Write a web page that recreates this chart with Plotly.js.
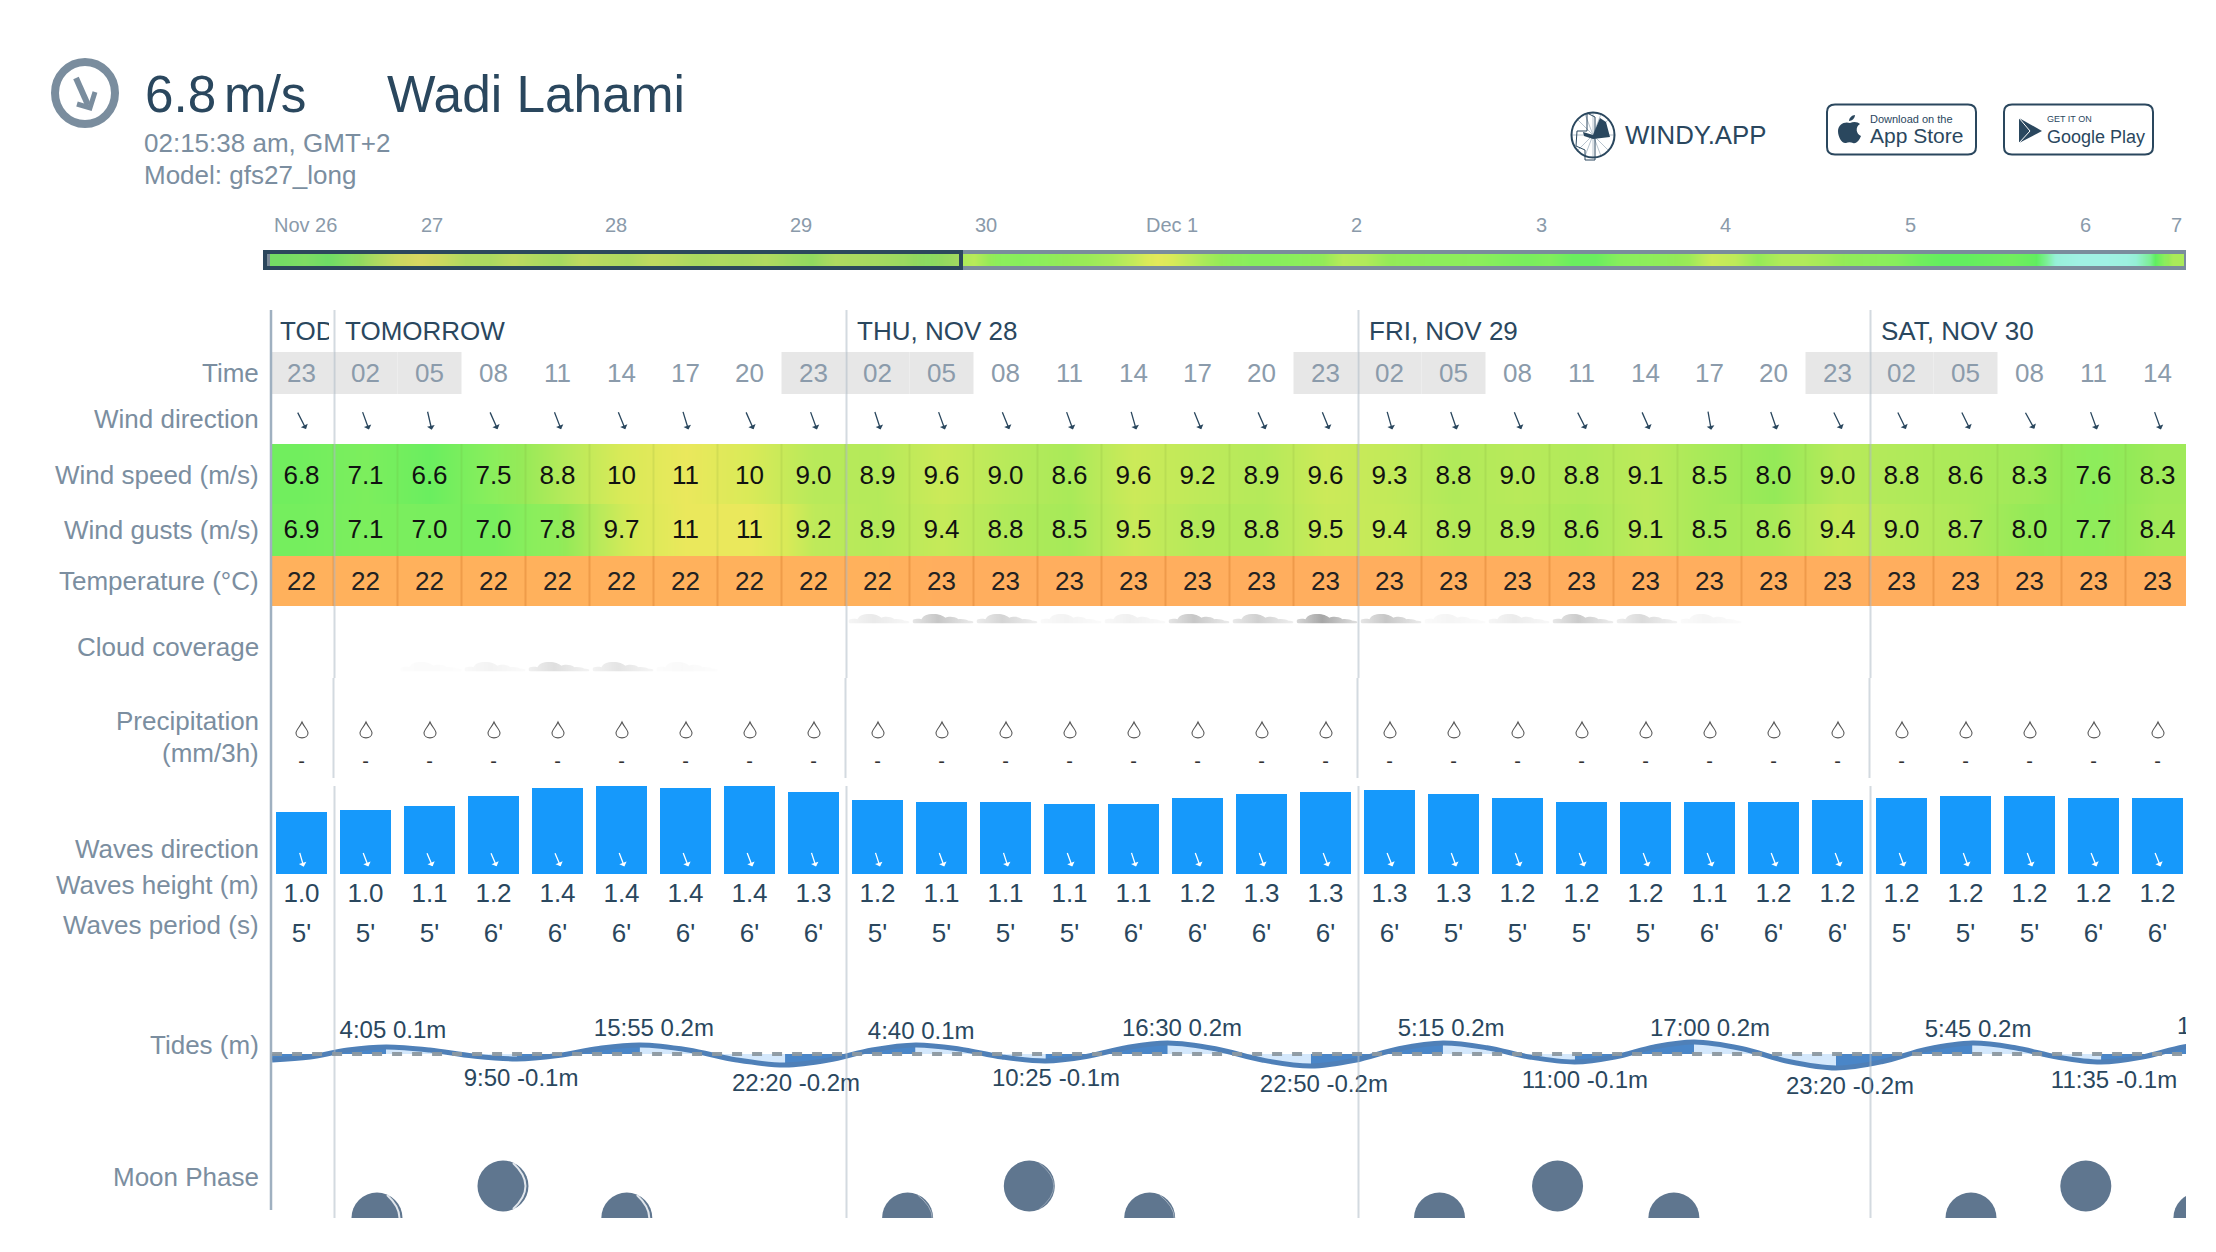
<!DOCTYPE html>
<html><head><meta charset="utf-8">
<script src="https://cdn.plot.ly/plotly-3.0.1.min.js"></script>
<style>html,body{margin:0;padding:0;background:#fff}</style></head>
<body><div id="chart" style="width:2216px;height:1252px"></div>
<script>
// ---------- data ----------
const hours = ["23","02","05","08","11","14","17","20","23","02","05","08","11","14","17","20","23","02","05","08","11","14","17","20","23","02","05","08","11","14"];
const dayLabels = ["TODAY","TOMORROW","THU, NOV 28","FRI, NOV 29","SAT, NOV 30"];
const windBearing = [153,160,167,156,159,158,163,156,160,162,160,158,160,164,158,156,158,164,161,158,153,156,170,161,154,154,154,151,160,160];
const windSpeed = [6.8,7.1,6.6,7.5,8.8,10,11,10,9.0,8.9,9.6,9.0,8.6,9.6,9.2,8.9,9.6,9.3,8.8,9.0,8.8,9.1,8.5,8.0,9.0,8.8,8.6,8.3,7.6,8.3];
const windGusts = [6.9,7.1,7.0,7.0,7.8,9.7,11,11,9.2,8.9,9.4,8.8,8.5,9.5,8.9,8.8,9.5,9.4,8.9,8.9,8.6,9.1,8.5,8.6,9.4,9.0,8.7,8.0,7.7,8.4];
const temperature = [22,22,22,22,22,22,22,22,22,22,23,23,23,23,23,23,23,23,23,23,23,23,23,23,23,23,23,23,23,23];
const cloudHigh = [0,0,0,0,0,0,0,0,0,.22,.6,.45,.12,.15,.6,.5,.95,.6,.1,.2,.55,.38,.1,0,0,0,0,0,0,0];
const cloudLow  = [0,0,.04,.12,.34,.28,.05,0,0,0,0,0,0,0,0,0,0,0,0,0,0,0,0,0,0,0,0,0,0,0];
const precipitation = Array.from("------------------------------");
const waveHeightBars = [0.99,1.02,1.09,1.25,1.38,1.41,1.38,1.41,1.31,1.18,1.15,1.15,1.12,1.12,1.22,1.28,1.31,1.34,1.28,1.22,1.15,1.15,1.15,1.15,1.18,1.22,1.25,1.25,1.22,1.22];
const waveHeightLabels = ["1.0","1.0","1.1","1.2","1.4","1.4","1.4","1.4","1.3","1.2","1.1","1.1","1.1","1.1","1.2","1.3","1.3","1.3","1.3","1.2","1.2","1.2","1.1","1.2","1.2","1.2","1.2","1.2","1.2","1.2"];
const wavePeriod = [5,5,5,6,6,6,6,6,6,5,5,5,5,6,6,6,6,6,5,5,5,5,6,6,6,5,5,5,6,6];
const waveBearing = [164,159,157,157,157,159,159,159,162,162,160,162,160,162,160,160,159,158,160,160,159,159,159,159,159,160,160,160,158,158];
const tideHours = [-1.22,0.55,2.31,4.08,6.11,8.14,10.17,12.08,13.98,15.89,18.14,20.39,22.64,24.66,26.69,28.71,30.73,32.74,34.76,36.65,38.55,40.44,42.66,44.88,47.10,49.15,51.19,53.24,55.29,57.33,59.38,61.23,63.07,64.92,67.12,69.32,71.52,73.64,75.75,77.87,79.86,81.86,83.85,85.77,87.68,89.6];
const tideLevels = [-.10,-.05,.065,.117,.067,-.033,-.083,-.025,.092,.15,.067,-.10,-.183,-.10,.067,.15,.083,-.05,-.117,-.042,.108,.183,.087,-.104,-.2,-.104,.087,.183,.104,-.054,-.133,-.05,.117,.2,.092,-.125,-.233,-.129,.079,.183,.104,-.054,-.133,-.05,.117,.2];
const tideLabels = ["4:05 0.1m","9:50 -0.1m","15:55 0.2m","22:20 -0.2m","4:40 0.1m","10:25 -0.1m","16:30 0.2m","22:50 -0.2m","5:15 0.2m","11:00 -0.1m","17:00 0.2m","23:20 -0.2m","5:45 0.2m","11:35 -0.1m","17:30 0.2m"];
const moonHours = [3.66,9.52,15.28,28.34,34.0,39.6,53.08,58.57,63.98,77.8,83.14,88.4];
const moonHeight = [0,1,0,0,1,0,0,1,0,0,1,0];
const moonLit = [1,1,1,.5,.4,.5,0,0,0,0,0,0];
const outlookExtra = [9.0,7.6,7.4,7.6,8.0,8.2,8.6,9.4,10.6,9.6,8.6,7.8,7.4,7.4,7.5,7.8,9.0,8.8,8.0,7.8,7.6,7.6,7.5,7.2,7.0,7.2,6.6,6.6,7.4,7.6,7.8,8.2,9.6,9.2,8.0,8.8,8.8,8.4,7.8,7.6,7.4,6.8,6.4,6.4,6.6,6.8,6.4,4.8,4.4,4.4,4.6,5.6,8.6];
const outlookLabels = ["Nov 26","27","28","29","30","Dec 1","2","3","4","5","6","7"];

// ---------- layout helpers ----------
const W = 2216, H = 1252;
const COL0 = 301.5, COLW = 64;            // px of column 0 centre, px per column
const T0 = 298.3, HOURW = 21.5;           // px of tide hour 0, px per hour
const PLOT_L = 272, PLOT_R = 2186;
const N = hours.length, cols = hours.map((_, i) => i);
const edges = Array.from({length: N + 1}, (_, i) => i - 0.5);
const DARK = "#2a475e", LABEL = "#7b8ea0", TIMEC = "#8b9bab";
const FONT = '"Liberation Sans", Arial, sans-serif';
const px = x => x / W, py = y => 1 - y / H;
const dom = (top, bottom) => [py(bottom), py(top)];
const colX = d => d / COLW;               // px offset to column units

const annotations = [];
const shapes = [];
const note = (x, y, text, size, color, anchor) => annotations.push({
  xref: "paper", yref: "paper", x: px(x), y: py(y), text, showarrow: false,
  xanchor: anchor || "left", yanchor: "middle", font: {size, color, family: FONT}, borderpad: 0
});
const pRect = (x0, y0, x1, y1, o) => shapes.push(Object.assign({
  type: "rect", xref: "paper", yref: "paper", x0: px(x0), x1: px(x1), y0: py(y0), y1: py(y1), line: {width: 0}
}, o));
const pRing = (x0, y0, x1, y1, color, width) => shapes.push({
  type: "circle", xref: "paper", yref: "paper", x0: px(x0), x1: px(x1), y0: py(y0), y1: py(y1), line: {color, width}, fillcolor: "rgba(0,0,0,0)"
});
const pPath = (pts, o) => shapes.push(Object.assign({
  type: "path", xref: "paper", yref: "paper", line: {width: 0},
  path: pts.replace(/(-?[\d.]+),(-?[\d.]+)/g, (_, a, b) => px(+a) + "," + py(+b))
}, o));
const pLine = (x0, y0, x1, y1, color, width) => shapes.push({
  type: "line", xref: "paper", yref: "paper", x0: px(x0), x1: px(x1), y0: py(y0), y1: py(y1), line: {color, width}
});

// header
pRing(55, 62, 115, 124, "#7a8d9e", 8);
note(143.5, 94, "6.8", 51.2, DARK); note(222.5, 94, "m/s", 51.2, DARK); note(386, 94, "Wadi Lahami", 51.4, DARK);
note(143, 143, "02:15:38 am, GMT+2", 26, LABEL); note(143, 175, "Model: gfs27_long", 26, LABEL);
pLine(76, 78, 88, 105, "#7a8d9e", 6);
pPath("M77,104 L90,108 L95,92", {line: {color: "#7a8d9e", width: 5}, fillcolor: "rgba(0,0,0,0)"});

// logo
[[1593,113,1593,157],[1572,135,1614,135],[1578,120,1608,150],[1578,150,1608,120],[1585,114,1601,156],[1585,156,1601,114]].forEach(s => pLine(s[0],s[1],s[2],s[3],"#b8c4ce",1));
pPath("M1583,132 L1593,135 L1600,118 L1606,122 L1610,137 L1593,139 L1584,136 Z", {fillcolor: DARK});
pPath("M1577,131 L1587,131 L1587,113 L1595,117 L1595,160 L1585,160 L1585,150 L1576,146 Z", {line: {color: DARK, width: 1}, fillcolor: "rgba(0,0,0,0)"});
pRing(1571.5, 112.5, 1614.5, 157.5, DARK, 2);
note(1624, 135, "WINDY.APP", 25.8, DARK);

// store badges
const badge = (a, b) => pPath(`M${a+8},104.5 L${b-8},104.5 Q${b},104.5 ${b},112 L${b},147 Q${b},154.5 ${b-8},154.5 L${a+8},154.5 Q${a},154.5 ${a},147 L${a},112 Q${a},104.5 ${a+8},104.5 Z`, {line: {color: DARK, width: 2}, fillcolor: "#fff"});
badge(1827, 1976); badge(2004, 2153);
pPath("M1850,123 C1854,121 1858,122 1860,124 C1855,127 1856,134 1861,136 C1859,141 1856,144 1853,143 C1851,142 1848,142 1846,143 C1842,144 1838,137 1838,131 C1838,124 1845,121 1850,123 Z", {fillcolor: DARK});
pPath("M1849,121 C1849,118 1852,115 1855,115 C1855,118 1852,121 1849,121 Z", {fillcolor: DARK});
note(1869, 119, "Download on the", 11, DARK); note(1869, 136, "App Store", 21, DARK);
pPath("M2019,118 L2042,131 L2019,143 Z", {fillcolor: DARK});
pLine(2019, 118, 2030, 131, "#fff", 1); pLine(2019, 143, 2030, 131, "#fff", 1);
note(2046, 119, "GET IT ON", 9, DARK); note(2046, 137, "Google Play", 18, DARK);

// outlook strip
const outlookPx = [305.5,432,616,801,986,1172,1356,1541,1725,1910,2085,2176];
outlookLabels.forEach((t, i) => note(outlookPx[i], 225, t, 20, "#8a9aaa", "center"));
pRect(263, 250, 2186, 270, {fillcolor: "#7a8c9c", layer: "below"});
pRect(265, 252, 961, 268, {line: {color: "#2c475c", width: 4}, fillcolor: "rgba(130,130,130,0.17)"});

// row labels
[["Time",373],["Wind direction",419],["Wind speed (m/s)",475],["Wind gusts (m/s)",530],["Temperature (°C)",581],["Cloud coverage",647],["Precipitation",721],["(mm/3h)",753],["Waves direction",849],["Waves height (m)",885],["Waves period (s)",925],["Tides (m)",1045],["Moon Phase",1177]]
  .forEach(r => note(260, r[1], r[0], 26, LABEL, "right"));

// day headers
const dayPx = [279,344,856,1368,1880];
dayLabels.forEach((t, i) => {
  note(dayPx[i], 331, t, 26, DARK);
  if (i === 0) { const a = annotations[annotations.length - 1]; a.width = 49; a.align = "left"; }
});

// night cells
hours.forEach((h, i) => { if (["23","02","05"].includes(h)) shapes.push({type: "rect", xref: "x", yref: "y", x0: i - .5, x1: i + .5, y0: 352, y1: 394, line: {width: 0}, fillcolor: "#e7e7e7", layer: "below"}); });

// cell edges and day lines
const isDayEdge = i => hours[i + 1] === "02";
for (let i = 0; i < N - 1; i++) {
  shapes.push({type: "line", xref: "x", yref: "y", x0: i + .5, x1: i + .5, y0: 444, y1: 556, line: {color: "rgba(110,150,50,0.13)", width: 2}});
  shapes.push({type: "line", xref: "x", yref: "y", x0: i + .5, x1: i + .5, y0: 556, y1: 606, line: {color: "rgba(220,130,50,0.45)", width: 2}});
  if (isDayEdge(i)) {
    const c = "rgba(175,187,199,0.55)", d = colX(1);
    shapes.push({type: "line", xref: "x", yref: "y", x0: i + .5 + d, x1: i + .5 + d, y0: 310, y1: 678, line: {color: c, width: 2}});
    shapes.push({type: "line", xref: "x", yref: "y", x0: i + .5, x1: i + .5, y0: 678, y1: 778, line: {color: c, width: 2}});
    shapes.push({type: "line", xref: "x", yref: "y", x0: i + .5 + d, x1: i + .5 + d, y0: 786, y1: 1218, line: {color: c, width: 2}});
  }
}
pLine(271, 310, 271, 1210, "#9fb0c0", 2.5);

// precipitation drops
cols.forEach(i => {
  const X = v => i + colX(v + .5);
  shapes.push({type: "path", xref: "x", yref: "y", line: {color: "#555", width: 1.1}, fillcolor: "#fff",
    path: `M${X(0)},722 C${X(1.5)},726 ${X(6)},730 ${X(6)},733 C${X(6)},739.5 ${X(-6)},739.5 ${X(-6)},733 C${X(-6)},730 ${X(-1.5)},726 ${X(0)},722 Z`});
});

// direction arrows
const arrow = (i, yc, bearing, len, color, w) => {
  const a = bearing * Math.PI / 180, dx = Math.sin(a) * len, dy = -Math.cos(a) * len;
  annotations.push({xref: "x", yref: "y", x: i + colX(dx / 2), y: yc + dy / 2, ax: -dx, ay: -dy, axref: "pixel", ayref: "pixel",
    text: "", showarrow: true, arrowhead: 1, arrowsize: 1, arrowwidth: w, arrowcolor: color, standoff: 0});
};
windBearing.forEach((b, i) => arrow(i, 420, b, 20, DARK, 1.3));
waveBearing.forEach((b, i) => arrow(i, 859, b, 16, "#fff", 1.3));

// moon highlights
moonHours.forEach((t, i) => {
  if (!moonLit[i]) return;
  const u = v => t + v / HOURW, cy = moonHeight[i], yv = v => cy - v / 32;
  shapes.push({type: "path", xref: "x2", yref: "y4", line: {color: `rgba(225,230,236,${moonLit[i]})`, width: moonLit[i] > .6 ? 2 : 1},
    path: `M${u(10)},${yv(-23)} Q${u(moonLit[i] > .6 ? 35 : 39)},${yv(0)} ${u(10)},${yv(23)}`});
});

// clouds
const cloudSvg = "data:image/svg+xml;base64," + btoa('<svg xmlns="http://www.w3.org/2000/svg" viewBox="0 0 61 10" width="244" height="40" preserveAspectRatio="none"><defs><linearGradient id="g" x1="0" x2="1" y1="0" y2="0"><stop offset="0" stop-color="#a2a2a2" stop-opacity=".45"/><stop offset=".42" stop-color="#a2a2a2" stop-opacity="1"/><stop offset="1" stop-color="#a2a2a2" stop-opacity=".35"/></linearGradient></defs><g fill="url(#g)"><path d="M0,7.5 C0,5 5,4.6 9,5.6 C11,1.5 14,0 21,0 C27,0 30,1.8 33,4 C36,2.5 42,2.5 46,5.5 C50,5 54,6 56,7 C60,6.8 61,8 61,8.6 C61,9.6 60,10 57,10 L4,10 C1,10 0,9 0,7.5 Z"/></g></svg>');
const images = [];
const addClouds = (arr, top, bottom) => arr.forEach((o, i) => { if (o > 0) images.push({source: cloudSvg, xref: "x", yref: "y", x: i + .5, y: bottom, sizex: colX(61), sizey: bottom - top, xanchor: "right", yanchor: "bottom", sizing: "stretch", opacity: o, layer: "above"}); });
addClouds(cloudHigh, 614, 623.5);
addClouds(cloudLow, 662, 671.5);

// ---------- traces ----------
const fmt = v => v >= 10 ? String(Math.round(v)) : v.toFixed(1);
const windScale = [[0,"#a8f2ee"],[.125,"#95f0d6"],[.2,"#7cef96"],[.2875,"#5fee60"],[.4375,"#8bee5c"],[.5,"#94ea58"],[.625,"#b8ea5a"],[.75,"#d9ea58"],[.875,"#eae85c"],[1,"#f2d65a"]];
const band = (vals, top, bottom, scale, zmin, zmax, xaxis) => ({
  type: "heatmap", xaxis: xaxis || "x", yaxis: "y", z: [vals, vals], x: xaxis ? Array.from({length: vals.length + 1}, (_, i) => i - .5) : edges,
  y: [top, (top + bottom) / 2, bottom], zsmooth: "best", colorscale: scale, zmin, zmax, showscale: false, hoverinfo: "skip"
});
const rowText = (texts, y, size, color) => ({type: "scatter", mode: "text", x: cols, y: cols.map(() => y), text: texts, textposition: "middle center", textfont: {size, color, family: FONT}, hoverinfo: "skip", cliponaxis: false});

const traces = [
  band(windSpeed.concat(outlookExtra), 254, 266, windScale, 4, 12, "x3"),
  band(windSpeed, 444, 504, windScale, 4, 12),
  band(windGusts, 504, 556, windScale, 4, 12),
  band(temperature, 556, 606, [[0,"#ffb15c"],[1,"#ffae5e"]], 22, 23),
  rowText(hours, 375, 26, TIMEC),
  rowText(windSpeed.map(fmt), 477, 26, "#111"),
  rowText(windGusts.map(fmt), 531, 26, "#111"),
  rowText(temperature.map(String), 583, 26, "#222"),
  rowText(precipitation, 763, 20, "#333"),
  rowText(waveHeightLabels, 895, 26, DARK),
  rowText(wavePeriod.map(p => p + "'"), 935, 26, DARK),
  {type: "bar", xaxis: "x", yaxis: "y2", x: cols, y: waveHeightBars, width: 51 / COLW, marker: {color: "#1699fb", line: {width: 0}}, hoverinfo: "skip"}
];

// tide fills: one per stretch between turning points (every third sample)
for (let s = 0; s + 3 < tideHours.length; s += 3) {
  traces.push({type: "scatter", mode: "lines", xaxis: "x2", yaxis: "y3", x: tideHours.slice(s, s + 4), y: tideLevels.slice(s, s + 4),
    line: {shape: "spline", width: 0}, fill: "tozeroy", fillcolor: s % 6 === 0 ? "#4a86c8" : "#d4e8fc", hoverinfo: "skip"});
}
traces.push({type: "scatter", mode: "lines", xaxis: "x2", yaxis: "y3", x: tideHours, y: tideLevels, line: {shape: "spline", width: 5, color: "#4f80b8"}, hoverinfo: "skip"});
const labelLift = [.36,-.44,.393,-.523,.343,-.44,.393,-.54,.393,-.473,.393,-.573,.377,-.473,.427];
const labelHours = [4.40,10.36,16.54,23.15,28.97,35.24,41.10,47.70,53.62,59.84,65.66,72.17,78.13,84.45,90.17];
traces.push({type: "scatter", mode: "text", xaxis: "x2", yaxis: "y3", x: labelHours, y: labelLift, text: tideLabels, textposition: "middle center", textfont: {size: 24, color: DARK, family: FONT}, hoverinfo: "skip", cliponaxis: true});
traces.push({type: "scatter", mode: "markers", xaxis: "x2", yaxis: "y4", x: moonHours, y: moonHeight, marker: {size: 51, color: "#5f768f", line: {width: 0}}, hoverinfo: "skip", cliponaxis: true});

shapes.push({type: "line", xref: "x2", yref: "y3", x0: -1.22, x1: 90, y0: 0, y1: 0, line: {color: "rgba(140,152,160,0.95)", width: 4, dash: "10px,10px"}});

const hidden = o => Object.assign({visible: false, fixedrange: true}, o);
const xDomain = [px(PLOT_L), px(PLOT_R)];
const layout = {
  width: W, height: H, margin: {l: 0, r: 0, t: 0, b: 0, pad: 0}, paper_bgcolor: "#fff", plot_bgcolor: "rgba(0,0,0,0)",
  showlegend: false, dragmode: false, hovermode: false, bargap: 0,
  xaxis: hidden({domain: xDomain, range: [(PLOT_L - COL0) / COLW, (PLOT_R - COL0) / COLW], anchor: "y"}),
  xaxis2: hidden({domain: xDomain, range: [(PLOT_L - T0) / HOURW, (PLOT_R - T0) / HOURW], anchor: "y3"}),
  xaxis3: hidden({domain: [px(270), px(2184)], range: [-.5, windSpeed.length + outlookExtra.length - .5], anchor: "y"}),
  yaxis: hidden({domain: [0, 1], range: [H, 0], anchor: "x"}),
  yaxis2: hidden({domain: dom(780, 874), range: [0, 94 / 62.5], anchor: "x"}),
  yaxis3: hidden({domain: dom(1000, 1110), range: [-56 / 60, 54 / 60], anchor: "x2"}),
  yaxis4: hidden({domain: dom(1150, 1218), range: [0, 68 / 32], anchor: "x2"}),
  annotations, shapes, images,
  font: {family: FONT}
};
Plotly.newPlot("chart", traces, layout, {displayModeBar: false, staticPlot: true});
</script></body></html>
